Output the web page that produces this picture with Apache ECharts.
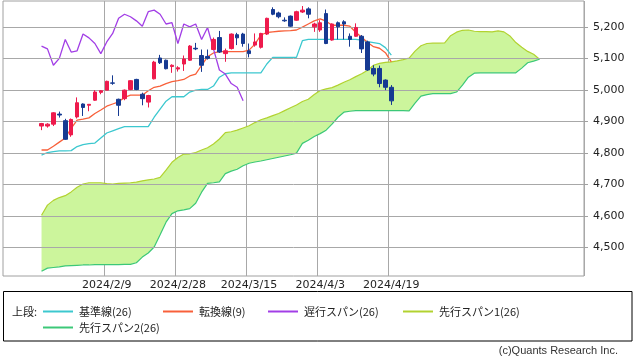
<!DOCTYPE html>
<html>
<head>
<meta charset="utf-8">
<script src="https://cdn.jsdelivr.net/npm/echarts@6/dist/echarts.min.js"></script>
<style>
html,body{margin:0;padding:0;background:#fff;}
#main{width:639px;height:357px;}
</style>
</head>
<body>
<div id="main"></div>
<script>
// ---- categories (trading days, incl. future slots for the leading spans) ----
const dates = ['2024/1/17','2024/1/18','2024/1/19','2024/1/22','2024/1/23','2024/1/24','2024/1/25','2024/1/26','2024/1/29','2024/1/30',
'2024/1/31','2024/2/1','2024/2/2','2024/2/5','2024/2/6','2024/2/7','2024/2/8','2024/2/9','2024/2/12','2024/2/13',
'2024/2/14','2024/2/15','2024/2/16','2024/2/19','2024/2/20','2024/2/21','2024/2/22','2024/2/26','2024/2/27','2024/2/28',
'2024/2/29','2024/3/1','2024/3/4','2024/3/5','2024/3/6','2024/3/7','2024/3/8','2024/3/11','2024/3/12','2024/3/13',
'2024/3/14','2024/3/15','2024/3/18','2024/3/19','2024/3/21','2024/3/22','2024/3/25','2024/3/26','2024/3/27','2024/3/28',
'2024/3/29','2024/4/1','2024/4/2','2024/4/3','2024/4/4','2024/4/5','2024/4/8','2024/4/9','2024/4/10','2024/4/11',
'2024/4/12','2024/4/15','2024/4/16','2024/4/17','2024/4/18','2024/4/19','2024/4/22','2024/4/23','2024/4/24','2024/4/25',
'2024/4/26','2024/4/30','2024/5/1','2024/5/2','2024/5/7','2024/5/8','2024/5/9','2024/5/10','2024/5/13','2024/5/14',
'2024/5/15','2024/5/16','2024/5/17','2024/5/20','2024/5/21','2024/5/22','2024/5/23','2024/5/24','2024/5/27','2024/5/28',
'2024/5/29','2024/5/30','2024/5/31','2024/6/3','2024/6/4','2024/6/5','2024/6/6','2024/6/7'];
const labelDates = ['2024/2/9','2024/2/28','2024/3/15','2024/4/3','2024/4/19'];
const firstDate = '2024/1/25';          // first visible candle / span value
const yTickValues = [4500,4600,4700,4800,4900,5000,5100,5200];

// ---- candles (from 2024/1/25 to 2024/4/19) ----
const open  = [4885,4885,4891,4923,4902,4857,4914,4955,4951,4967,4992,4999,5022,4970,4972,5001,5033,4986,4961,5035,
               5101,5094,5074,5066,5082,5094,5132,5109,5106,5128,5166,5115,5131,5175,5177,5124,5142,5135,5177,5255,
               5244,5221,5234,5221,5247,5257,5200,5190,5242,5158,5213,5216,5170,5170,5170,5152,5068,5068,5031,5008];
const close = [4893,4891,4927,4920,4843,4906,4959,4944,4954,4993,4997,5027,5021,4951,4999,5029,5001,4972,4982,5088,
               5086,5067,5078,5070,5098,5139,5130,5078,5100,5160,5120,5124,5177,5165,5147,5115,5152,5179,5227,5240,
               5232,5219,5202,5248,5253,5240,5209,5213,5147,5209,5200,5209,5160,5198,5130,5063,5050,5020,5008,4965];
const low   = [4872,4880,4885,4912,4841,4851,4909,4917,4932,4965,4986,4999,5016,4917,4967,4999,4999,4951,4944,5033,
               5082,5065,5054,5058,5060,5092,5126,5057,5096,5126,5117,5089,5128,5142,5137,5103,5137,5131,5174,5237,
               5227,5216,5200,5219,5244,5227,5184,5184,5145,5156,5160,5160,5137,5168,5117,5060,5043,5008,4999,4952];
const high  = [4895,4894,4929,4931,4908,4909,4976,4957,4955,4999,4999,5029,5046,4972,5001,5031,5035,4991,4984,5092,
               5111,5096,5081,5075,5109,5142,5149,5128,5128,5166,5187,5131,5179,5181,5181,5147,5179,5181,5229,5262,
               5248,5230,5236,5251,5266,5262,5213,5221,5255,5211,5217,5221,5179,5211,5174,5156,5078,5077,5033,5015];

// ---- 転換線(9) / 基準線(26), same dates as the candles ----
const tenkan = [4809,4809,4821,4834,4847,4878,4904,4907,4911,4925,4936,4948,4955,4962,4976,4983,4983,4983,4997,5008,
                5012,5020,5026,5029,5033,5044,5050,5078,5105,5117,5121,5121,5121,5121,5121,5126,5145,5174,5182,5184,
                5186,5187,5188,5190,5199,5209,5219,5225,5218,5205,5205,5205,5202,5183,5167,5150,5137,5132,5118,5089];
const kijun  = [4793,4801,4804,4806,4806,4807,4820,4826,4829,4831,4847,4863,4870,4877,4883,4883,4883,4883,4883,4913,
                4939,4964,4978,4978,4978,4993,4999,5001,5001,5012,5040,5051,5054,5054,5054,5054,5054,5054,5082,5103,
                5103,5103,5103,5103,5156,5160,5160,5160,5160,5160,5160,5160,5160,5160,5158,5153,5150,5147,5134,5110];

// ---- 先行スパン1 / 先行スパン2 (from 2024/1/25, 25 slots beyond the last candle) ----
const span1 = [4602,4634,4649,4658,4664,4676,4691,4701,4705,4705,4705,4702,4701,4703,4704,4705,4707,4711,4714,4717,
               4722,4745,4770,4785,4796,4797,4801,4809,4816,4828,4844,4864,4867,4872,4879,4886,4896,4905,4911,4918,
               4925,4934,4943,4952,4963,4970,4985,4998,5003,5007,5015,5024,5032,5042,5051,5062,5078,5084,5087,5089,
               5092,5096,5101,5123,5140,5147,5148,5148,5149,5172,5183,5189,5190,5186,5185,5185,5184,5187,5184,5171,
               5150,5135,5122,5113,5097];
const span2 = [4424,4434,4436,4438,4441,4442,4443,4444,4444,4445,4445,4445,4445,4445,4446,4446,4451,4469,4482,4501,
               4540,4580,4607,4616,4619,4623,4640,4675,4703,4705,4708,4734,4742,4748,4759,4767,4771,4774,4778,4782,
               4786,4790,4794,4799,4830,4840,4852,4861,4872,4891,4913,4929,4932,4934,4934,4934,4934,4934,4934,4934,
               4934,4934,4933,4958,4980,4985,4988,4988,4988,4988,4993,5015,5040,5053,5054,5054,5054,5054,5054,5054,
               5054,5069,5086,5091,5097];
const lagPeriod = 26;   // 遅行スパン: close plotted 25 slots back

// ---- build series data ----
const start = dates.indexOf(firstDate);
function pad(arr, offset) {
  const out = new Array(dates.length).fill('-');
  arr.forEach((v, k) => { out[offset + k] = v; });
  return out;
}
const candleData = new Array(dates.length).fill('-');
open.forEach((o, k) => { candleData[start + k] = [o, close[k], low[k], high[k]]; });
const chikouData = pad(close.slice(lagPeriod - 1), start);
const labelIdx = labelDates.map(d => dates.indexOf(d));

const NAMES = ['基準線(26)', '転換線(9)', '遅行スパン(26)', '先行スパン1(26)', '先行スパン2(26)'];
const COLORS = ['#3cc8cf', '#f8603a', '#a23ee6', '#b2d230', '#3cc878'];

const chart = echarts.init(document.getElementById('main'), null, {renderer: 'canvas'});
const jpFont = '"Noto Sans CJK JP", "DejaVu Sans", sans-serif';
function legendAt(name, left, top) {
  return {
    data: [name], left: left, top: top, padding: 0, itemWidth: 30, itemHeight: 2,
    icon: 'rect', selectedMode: false, itemGap: 0,
    textStyle: {fontSize: 11, color: '#222', fontFamily: jpFont, padding: [0, 0, 0, 1]}
  };
}
const option = {
  backgroundColor: '#fff',
  animation: false,
  grid: {left: 3, right: 55, top: 1, bottom: 81, show: true, borderColor: '#a0a0a0', borderWidth: 1, backgroundColor: 'transparent'},
  legend: [
    legendAt(NAMES[0], 43, 306),
    legendAt(NAMES[1], 163, 306),
    legendAt(NAMES[2], 268, 306),
    legendAt(NAMES[3], 403, 306),
    legendAt(NAMES[4], 43, 322)
  ],
  xAxis: {
    type: 'category', data: dates, boundaryGap: true,
    axisLine: {show: false}, axisTick: {show: false},
    axisLabel: {interval: (i) => labelIdx.includes(i), fontSize: 11, color: '#222', margin: 4, fontFamily: '"DejaVu Sans", sans-serif'},
    splitLine: {show: true, interval: (i) => labelIdx.includes(i), lineStyle: {color: '#a8a8a8', width: 1}}
  },
  yAxis: {
    type: 'value', position: 'right', min: 4409, max: 5282, scale: true,
    axisLine: {show: false},
    axisTick: {show: true, length: 4, lineStyle: {color: '#a0a0a0'}, customValues: yTickValues},
    axisLabel: {fontSize: 11, color: '#222', margin: 9, fontFamily: '"DejaVu Sans", sans-serif',
      customValues: yTickValues, formatter: v => v.toLocaleString('en-US')},
    splitLine: {show: false}
  },
  graphic: [
    {type: 'rect', shape: {x: 3.5, y: 291.5, width: 628.5, height: 49.5}, style: {fill: 'none', stroke: '#000', lineWidth: 1}, silent: true},
    {type: 'text', left: 12, top: 306, style: {text: '上段:', fontSize: 11, fill: '#222', fontFamily: jpFont}, silent: true},
    {type: 'text', right: 21, top: 345, style: {text: '(c)Quants Research Inc.', fontSize: 11, fill: '#333', fontFamily: '"Liberation Sans", sans-serif'}, silent: true}
  ],
  series: [
    { // horizontal grid lines at the tick values
      type: 'line', data: [], silent: true,
      markLine: {symbol: 'none', silent: true, label: {show: false}, animation: false,
        lineStyle: {color: '#a8a8a8', width: 1, type: 'solid'},
        data: yTickValues.map(v => ({yAxis: v}))}
    },
    { // cloud fill between the two leading spans
      type: 'custom', silent: true, z: 1,
      data: [[start, span1[0]]],
      renderItem: function (params, api) {
        const pts = [];
        for (let k = 0; k < span1.length; k++) pts.push(api.coord([start + k, span1[k]]));
        for (let k = span2.length - 1; k >= 0; k--) pts.push(api.coord([start + k, span2[k]]));
        return {type: 'polygon', shape: {points: pts}, style: {fill: '#ccf59c', stroke: 'none'}};
      }
    },
    {name: NAMES[3], type: 'line', data: pad(span1, start), symbol: 'none', z: 2, lineStyle: {color: COLORS[3], width: 1.2}, itemStyle: {color: COLORS[3]}},
    {name: NAMES[4], type: 'line', data: pad(span2, start), symbol: 'none', z: 2, lineStyle: {color: COLORS[4], width: 1.2}, itemStyle: {color: COLORS[4]}},
    {name: NAMES[0], type: 'line', data: pad(kijun, start), symbol: 'none', z: 3, lineStyle: {color: COLORS[0], width: 1.3}, itemStyle: {color: COLORS[0]}},
    {name: NAMES[1], type: 'line', data: pad(tenkan, start), symbol: 'none', z: 3, lineStyle: {color: COLORS[1], width: 1.3}, itemStyle: {color: COLORS[1]}},
    {name: NAMES[2], type: 'line', data: chikouData, symbol: 'none', z: 3, lineStyle: {color: COLORS[2], width: 1.3}, itemStyle: {color: COLORS[2]}},
    {
      type: 'candlestick', data: candleData, barWidth: 4, z: 5,
      itemStyle: {color: '#ee1a4c', color0: '#163a92', borderColor: '#ee1a4c', borderColor0: '#163a92', borderWidth: 1}
    }
  ]
};
chart.setOption(option);
</script>
</body>
</html>
